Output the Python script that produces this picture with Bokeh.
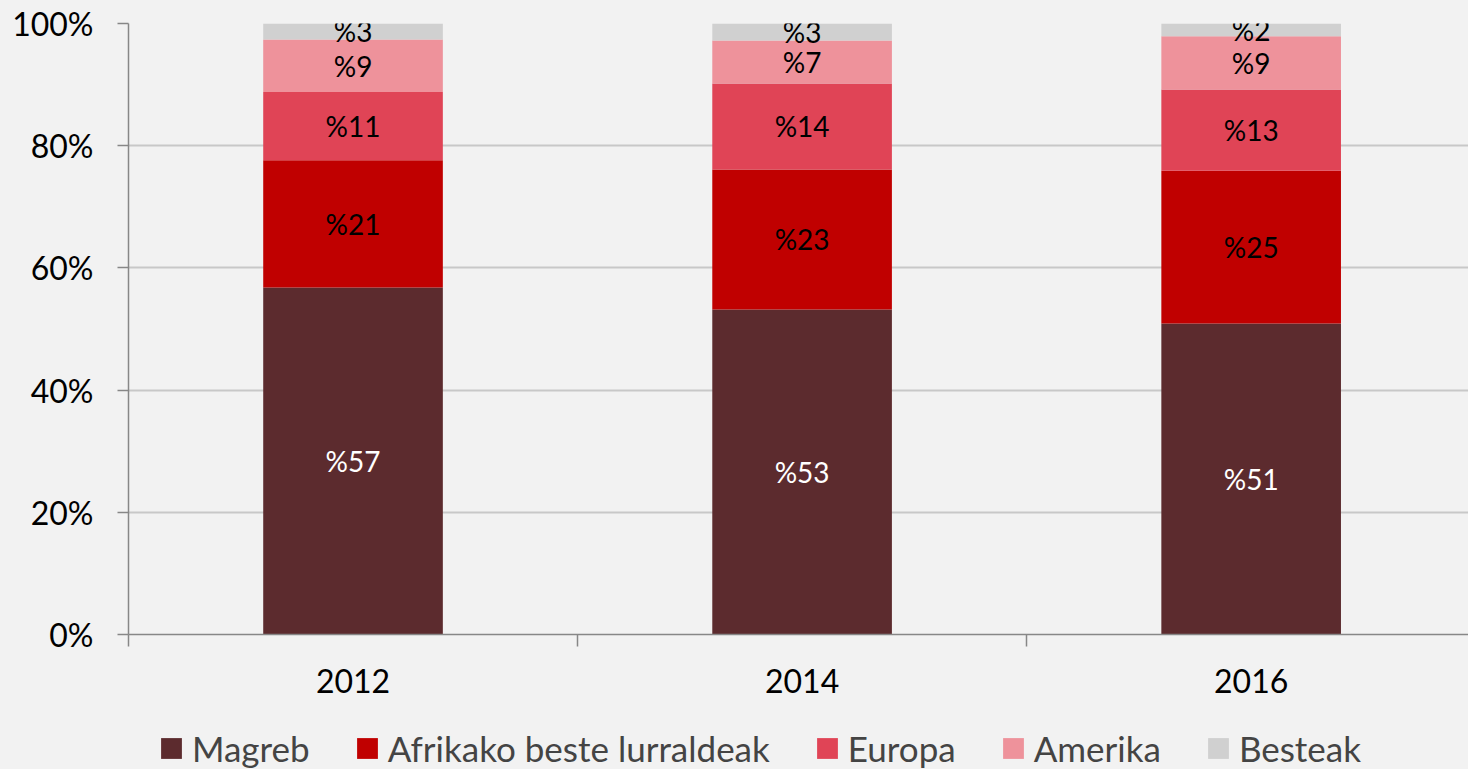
import numpy as np
from bokeh.plotting import figure
from bokeh.layouts import column
from bokeh.models import (ColumnDataSource, Range1d, FixedTicker, PrintfTickFormatter,
                          Legend, LegendItem)
from bokeh.core.properties import value
from bokeh.embed import file_html
from bokeh.resources import INLINE

# ---- data ----
years = ["2012", "2014", "2016"]
series = ["Magreb", "Afrikako beste lurraldeak", "Europa", "Amerika", "Besteak"]
magreb = [56.8, 53.2, 50.9]
afrika = [20.8, 22.9, 25.0]
europa = [11.2, 14.1, 13.3]
amerika = [8.6, 7.0, 8.7]
besteak = [2.6, 2.8, 2.1]
y_ticks = [0, 20, 40, 60, 80, 100]

colors = ["#5c2b2e", "#c00000", "#e04456", "#ee929b", "#d0d0d0"]
label_colors = ["white", "black", "black", "black", "black"]
BG = "#f2f2f2"
FONT = value("Lato")

values = [magreb, afrika, europa, amerika, besteak]
keys = ["s%d" % i for i in range(len(series))]
xpos = np.arange(len(years)) + 0.5

data = {"x": xpos}
for k, v in zip(keys, values):
    data[k] = v
src = ColumnDataSource(data)

p = figure(width=1468, height=705, x_range=Range1d(0, 2.984),
           y_range=Range1d(0, 100), output_backend="svg", toolbar_location=None,
           min_border_left=128, min_border_right=0, min_border_top=23,
           min_border_bottom=71)
p.background_fill_color = BG
p.border_fill_color = BG
p.outline_line_color = None

rends = p.vbar_stack(keys, x="x", width=0.4, color=colors, source=src, line_color=None)

# data labels
bottom = np.zeros(len(years))
for v, tc in zip(values, label_colors):
    v = np.array(v)
    mid = bottom + v / 2
    labels = ["%" + str(int(a + 0.5)) for a in v]
    p.text(x=xpos, y=mid, text=labels, text_align="center", text_baseline="middle",
           text_font=FONT, text_font_size="28px", text_color=tc)
    bottom = bottom + v

# axes
p.yaxis.ticker = FixedTicker(ticks=y_ticks)
p.yaxis.formatter = PrintfTickFormatter(format="%d%%")
p.yaxis.axis_line_color = "#878787"
p.yaxis.axis_line_width = 1.5
p.yaxis.major_tick_line_color = "#878787"
p.yaxis.major_tick_line_width = 1.5
p.yaxis.major_tick_out = 11
p.yaxis.major_tick_in = 0
p.yaxis.minor_tick_line_color = None
p.yaxis.major_label_standoff = 24
p.yaxis.major_label_text_font = "Lato"
p.yaxis.major_label_text_font_size = "32px"
p.yaxis.major_label_text_color = "black"

p.xaxis.ticker = FixedTicker(ticks=list(xpos), minor_ticks=list(range(len(years) + 1)))
p.xaxis.major_label_overrides = {float(x): y for x, y in zip(xpos, years)}
p.xaxis.axis_line_color = "#878787"
p.xaxis.axis_line_width = 1.5
p.xaxis.major_tick_line_color = None
p.xaxis.major_tick_out = 0
p.xaxis.major_tick_in = 0
p.xaxis.minor_tick_line_color = "#878787"
p.xaxis.minor_tick_line_width = 1.5
p.xaxis.minor_tick_out = 12
p.xaxis.minor_tick_in = 0
p.xaxis.major_label_standoff = 22
p.xaxis.major_label_text_font = "Lato"
p.xaxis.major_label_text_font_size = "32px"
p.xaxis.major_label_text_color = "black"

p.xgrid.grid_line_color = None
p.ygrid.ticker = FixedTicker(ticks=y_ticks)
p.ygrid.grid_line_color = "#c8c8c8"
p.ygrid.grid_line_width = 2

# legend strip (its own small figure below the chart)
lf = figure(width=1468, height=64, x_range=Range1d(0, 1), y_range=Range1d(0, 1),
            x_axis_type=None, y_axis_type=None, output_backend="svg",
            toolbar_location=None, min_border_left=128, min_border_right=0,
            min_border_top=0, min_border_bottom=0)
lf.background_fill_color = BG
lf.border_fill_color = BG
lf.outline_line_color = None
# swatch renderers: zero-height bars (draw nothing), used only for the legend swatches
lrends = [lf.vbar(x=[0.5], top=[-1], bottom=[-1], width=0.1, color=c, line_color=None)
          for c in colors]
legend = Legend(items=[LegendItem(label=s, renderers=[r]) for s, r in zip(series, lrends)],
                orientation="horizontal", location=(30, 0),
                glyph_width=26, glyph_height=26, label_standoff=8, spacing=44,
                label_text_font="Lato", label_text_font_size="35px",
                background_fill_alpha=0, border_line_alpha=0, padding=0, margin=0)
lf.add_layout(legend)

layout = column(p, lf, spacing=0)
layout.styles = {"background-color": BG}
open("out.html", "w").write(file_html(layout, INLINE))
